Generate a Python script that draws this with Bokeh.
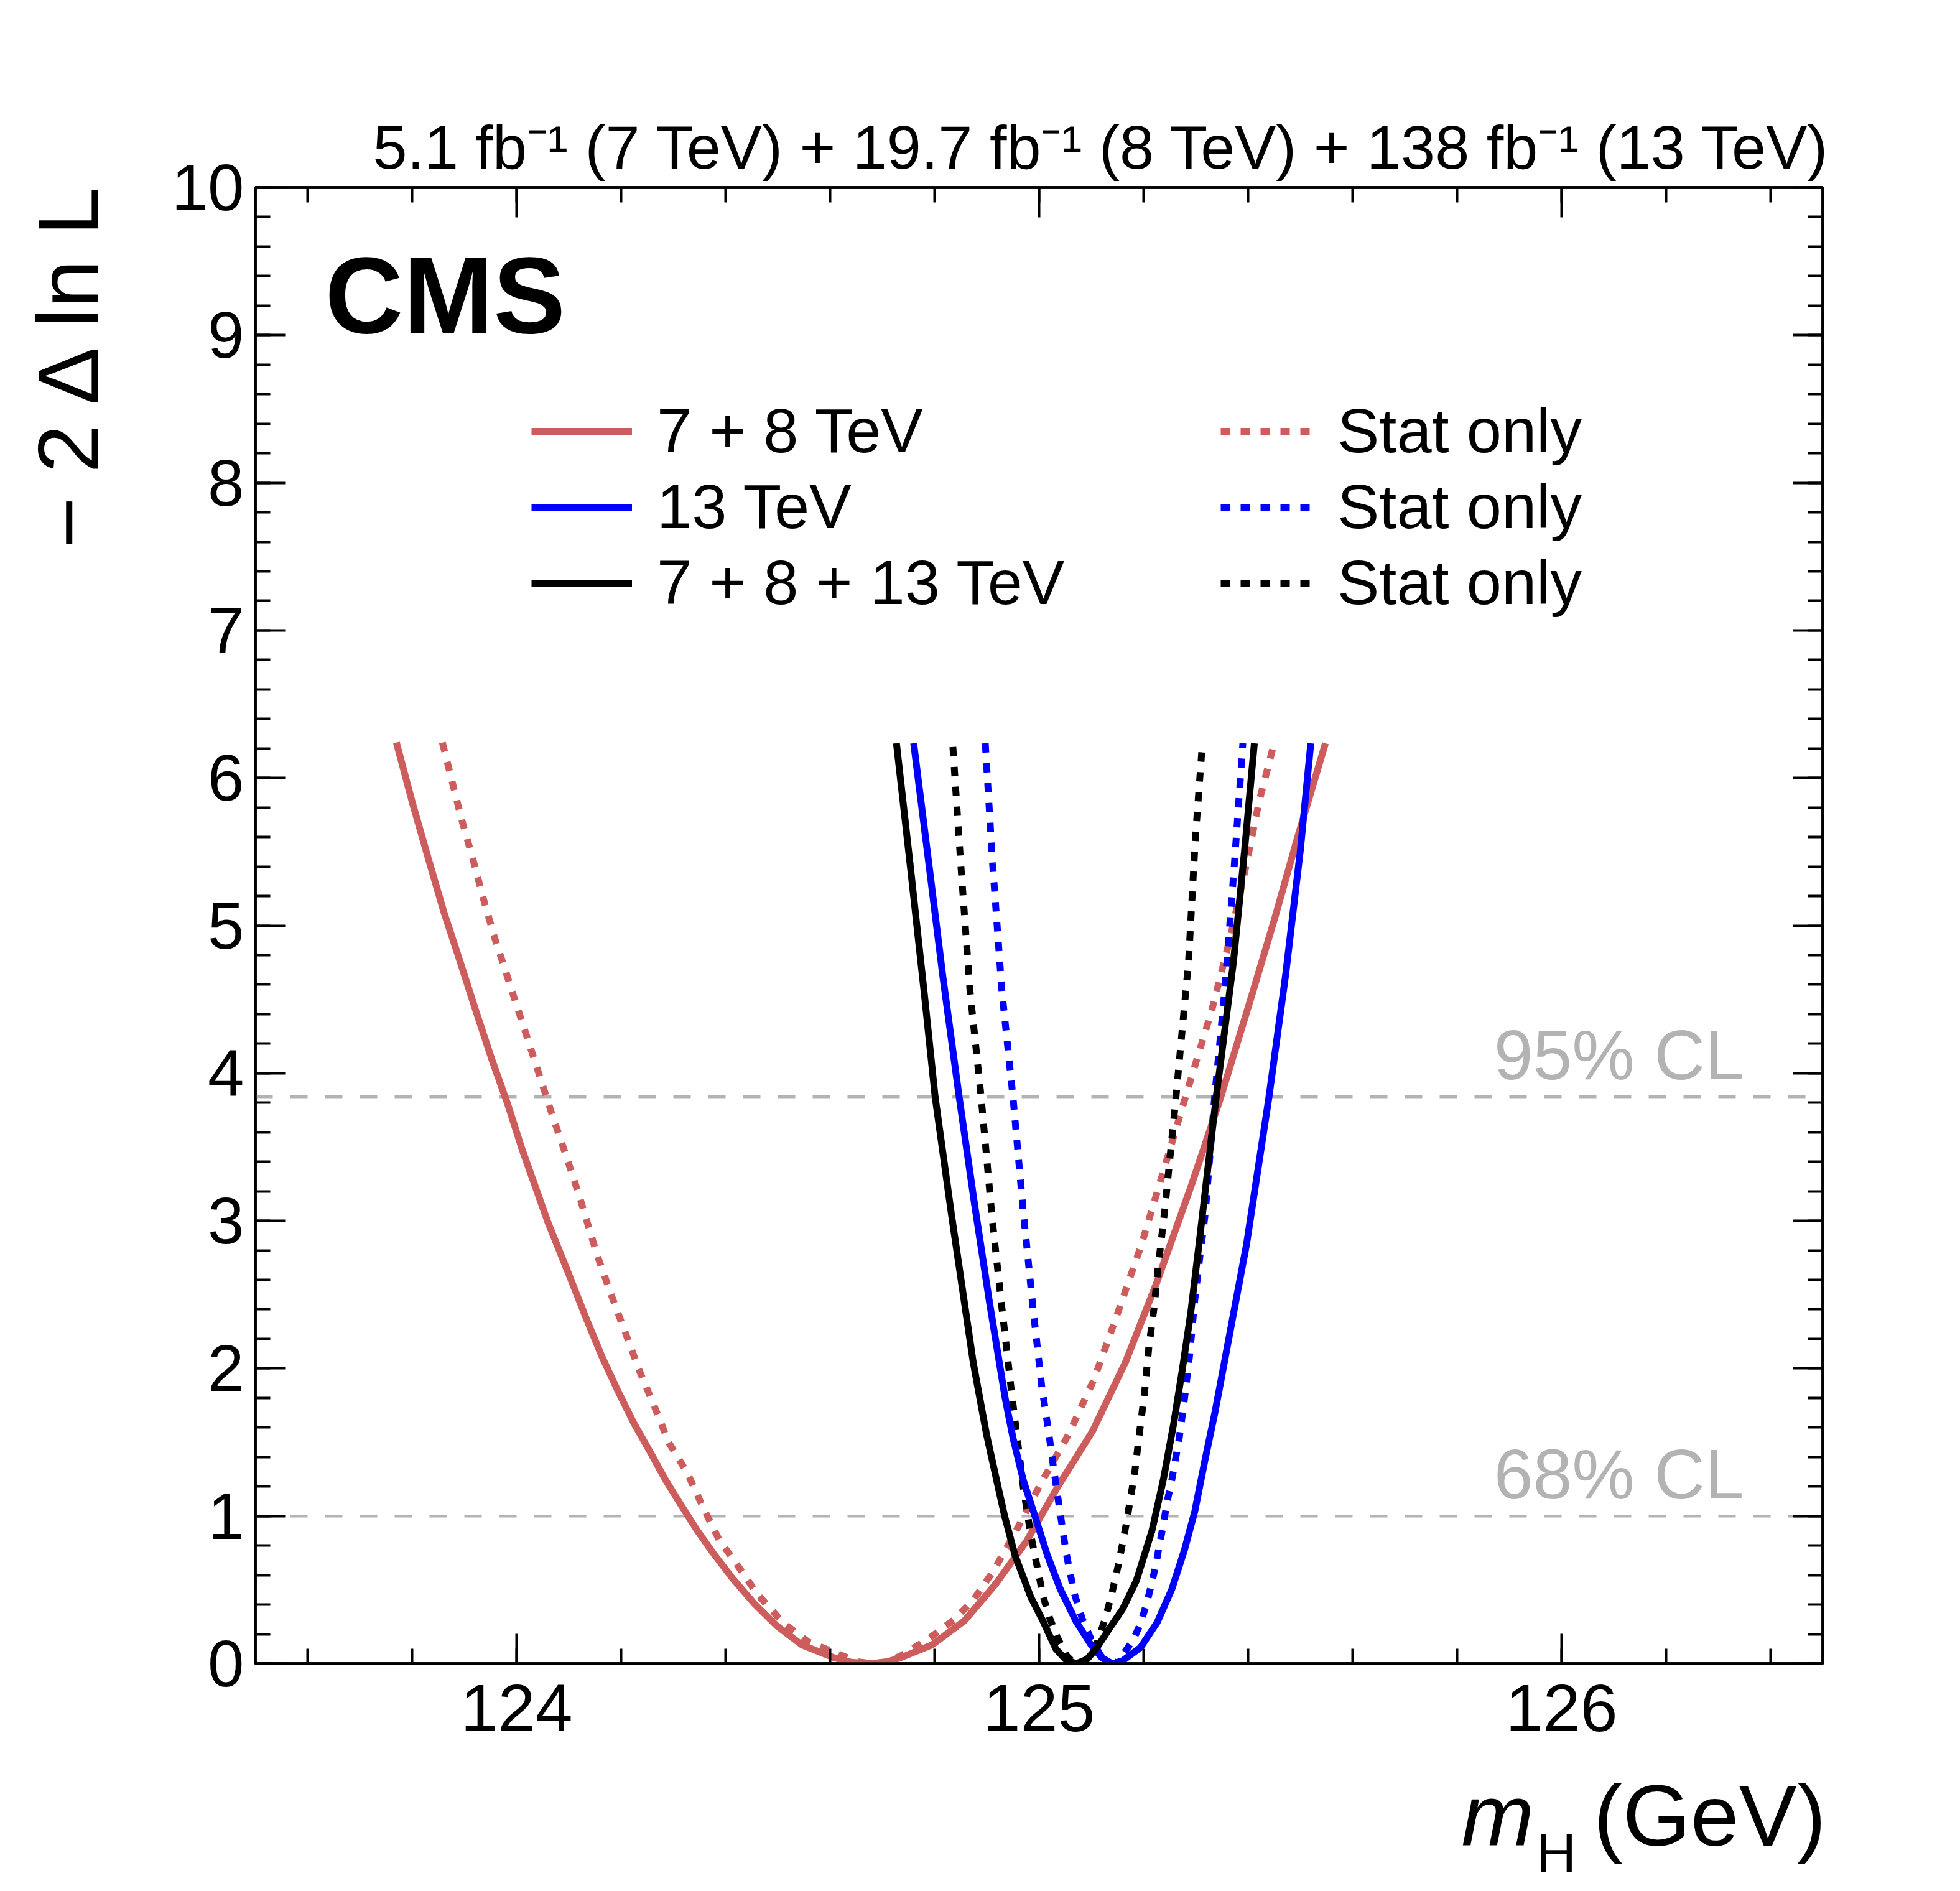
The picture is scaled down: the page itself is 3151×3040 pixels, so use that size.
import math
from bokeh.plotting import figure
from bokeh.layouts import column, row
from bokeh.models import (Range1d, LinearAxis, SingleIntervalTicker, Span, Label,
                          Legend, LegendItem, CustomJSTickFormatter)
from bokeh.embed import file_html
from bokeh.resources import INLINE

# ---------------- data ----------------
red_x = [123.770, 123.800, 123.831, 123.861, 123.891, 123.922, 123.952, 123.983, 124.010, 124.037,
         124.060, 124.097, 124.133, 124.163, 124.194, 124.224, 124.255, 124.285, 124.315, 124.346,
         124.376, 124.413, 124.455, 124.498, 124.546, 124.607, 124.640, 124.675, 124.705, 124.735,
         124.795, 124.857, 124.917, 124.976, 125.036, 125.103, 125.166, 125.226, 125.293, 125.348,
         125.409, 125.451, 125.494, 125.548]
red_y = [6.24, 5.84, 5.455, 5.09, 4.766, 4.423, 4.10, 3.79, 3.49, 3.22,
         2.99, 2.664, 2.341, 2.083, 1.847, 1.632, 1.438, 1.245, 1.073, 0.901,
         0.75, 0.579, 0.406, 0.256, 0.127, 0.041, 0.010, 0.0, 0.008, 0.04,
         0.127, 0.29, 0.54, 0.83, 1.20, 1.58, 2.048, 2.59, 3.256, 3.84,
         4.55, 5.05, 5.59, 6.235]

red_stat_x = [123.858, 123.894, 123.916, 123.937, 123.958, 123.980, 124.001, 124.025, 124.046, 124.067,
              124.092, 124.119, 124.154, 124.182, 124.209, 124.236, 124.264, 124.291, 124.327, 124.355,
              124.388, 124.419, 124.461, 124.510, 124.558, 124.625, 124.652, 124.680, 124.708, 124.735,
              124.789, 124.838, 124.874, 124.913, 124.956, 125.004, 125.056, 125.105, 125.147, 125.196,
              125.245, 125.287, 125.330, 125.366, 125.397, 125.421, 125.448]
red_stat_y = [6.24, 5.73, 5.455, 5.175, 4.917, 4.68, 4.45, 4.19, 3.96, 3.73,
              3.47, 3.18, 2.77, 2.49, 2.234, 1.976, 1.74, 1.50, 1.29, 1.073,
              0.836, 0.686, 0.47, 0.277, 0.148, 0.052, 0.013, 0.0, 0.013, 0.052,
              0.17, 0.30, 0.43, 0.63, 0.90, 1.225, 1.55, 1.925, 2.34, 2.84,
              3.42, 3.92, 4.42, 4.92, 5.42, 5.84, 6.21]

blue_x = [124.760, 124.789, 124.816, 124.847, 124.877, 124.905, 124.935, 124.950, 124.970, 124.992,
          125.016, 125.040, 125.071, 125.099, 125.120, 125.140, 125.160, 125.194, 125.226, 125.254,
          125.278, 125.298, 125.317, 125.337, 125.357, 125.377, 125.397, 125.440, 125.472, 125.500,
          125.520]
blue_y = [6.235, 5.42, 4.65, 3.84, 3.10, 2.45, 1.80, 1.53, 1.24, 1.0,
          0.733, 0.509, 0.284, 0.129, 0.04, 0.0, 0.02, 0.109, 0.279, 0.504,
          0.768, 1.032, 1.371, 1.71, 2.087, 2.464, 2.84, 3.84, 4.67, 5.51,
          6.235]

blue_stat_x = [124.897, 124.911, 124.929, 124.950, 124.969, 124.988, 125.005, 125.018, 125.028, 125.040,
               125.052, 125.067, 125.083, 125.099, 125.119, 125.130, 125.140, 125.149, 125.158, 125.180,
               125.194, 125.206, 125.216, 125.224, 125.231, 125.238, 125.245, 125.253, 125.268, 125.278,
               125.288, 125.298, 125.308, 125.318, 125.336, 125.355, 125.373, 125.390]
blue_stat_y = [6.235, 5.42, 4.55, 3.84, 3.09, 2.42, 1.88, 1.576, 1.32, 1.028,
               0.747, 0.48, 0.30, 0.17, 0.05, 0.01, 0.0, 0.008, 0.05, 0.16,
               0.27, 0.41, 0.55, 0.68, 0.818, 0.944, 1.098, 1.225, 1.522, 1.786,
               2.087, 2.464, 2.765, 3.05, 3.84, 4.55, 5.38, 6.235]

black_x = [124.727, 124.753, 124.780, 124.801, 124.832, 124.874, 124.899, 124.917, 124.934, 124.954,
           124.984, 125.008, 125.032, 125.050, 125.071, 125.092, 125.111, 125.135, 125.160, 125.186,
           125.216, 125.238, 125.258, 125.274, 125.290, 125.306, 125.339, 125.372, 125.393, 125.412]
black_y = [6.235, 5.42, 4.55, 3.84, 3.05, 2.04, 1.56, 1.27, 1.0, 0.733,
           0.452, 0.284, 0.10, 0.03, 0.0, 0.03, 0.11, 0.24, 0.37, 0.56,
           0.9, 1.25, 1.634, 1.99, 2.37, 2.84, 3.84, 4.755, 5.50, 6.235]

black_stat_x = [124.835, 124.850, 124.868, 124.889, 124.911, 124.929, 124.947, 124.957, 124.970, 124.984,
                124.995, 125.008, 125.020, 125.034, 125.052, 125.064, 125.075, 125.087, 125.098, 125.111,
                125.127, 125.139, 125.153, 125.167, 125.183, 125.192, 125.202, 125.210, 125.220, 125.228,
                125.241, 125.262, 125.286, 125.299, 125.312]
black_stat_y = [6.21, 5.42, 4.55, 3.84, 2.986, 2.406, 1.847, 1.56, 1.19, 0.874,
                0.68, 0.452, 0.312, 0.185, 0.056, 0.013, 0.0, 0.015, 0.06, 0.14,
                0.31, 0.47, 0.69, 0.95, 1.295, 1.56, 1.842, 2.143, 2.41, 2.69,
                3.09, 3.84, 4.755, 5.59, 6.21]

cl_levels = [1.0, 3.84]
cl_labels = ["68% CL", "95% CL"]
legend_labels_left = ["7 + 8 TeV", "13 TeV", "7 + 8 + 13 TeV"]
legend_labels_right = ["Stat only", "Stat only", "Stat only"]
header_text = "5.1 fb\u207b\u00b9 (7 TeV) + 19.7 fb\u207b\u00b9 (8 TeV) + 138 fb\u207b\u00b9 (13 TeV)"
y_title = "\u2212 2 \u0394 ln L"

X_RANGE = (123.5, 126.5)
Y_RANGE = (0.0, 10.0)

# ---------------- styling / layout ----------------
FONT = "Liberation Sans"
RED = "#cd5c5c"
BLUE = "#0000ff"
BLACK = "#000000"
GRAY = "#b3b3b3"
LW = 11
DOT = "15 17"
SHIFT = 0.36  # empirical baseline correction (fraction of font size)

W, H = 3135, 3038
YLAB_W = 248
ML, MR, MT, MB = 162, 205, 301, 150
FW, FH = 2520, 2373
PW = ML + FW + MR
PH = MT + FH + MB
XLAB_H = H - PH
XLAB_TOP = PH          # page y of the top of the x-label strip
FRAME_BOTTOM = MT + FH  # page y of the frame bottom


def text_panel(w, h):
    f = figure(width=w, height=h, x_range=Range1d(0, w), y_range=Range1d(0, h),
               output_backend="svg", toolbar_location=None,
               x_axis_location=None, y_axis_location=None, min_border=0)
    f.title.visible = False
    f.outline_line_color = None
    f.background_fill_color = "white"
    f.border_fill_color = "white"
    f.grid.visible = False
    return f


p = figure(width=PW, height=PH, x_range=Range1d(*X_RANGE), y_range=Range1d(*Y_RANGE),
           output_backend="svg", toolbar_location=None,
           x_axis_location=None, y_axis_location=None)
p.min_border_left = ML
p.min_border_right = MR
p.min_border_top = MT
p.min_border_bottom = MB
p.background_fill_color = "white"
p.border_fill_color = "white"
p.outline_line_color = "black"
p.outline_line_width = 4.5
p.grid.visible = False

# header line as the plot title (right aligned above the frame)
p.title.text = header_text
p.title.align = "right"
p.title.vertical_align = "bottom"
p.title.text_font = FONT
p.title.text_font_size = "99px"
p.title.text_font_style = "normal"
p.title.text_color = "black"
p.title.standoff = 20
p.title.offset = -13


def make_axis(show_labels, standoff, size="104px"):
    ax = LinearAxis(ticker=SingleIntervalTicker(interval=1, num_minor_ticks=5))
    ax.axis_line_color = "black"
    ax.axis_line_width = 4.5
    ax.major_tick_line_color = "black"
    ax.minor_tick_line_color = "black"
    ax.major_tick_line_width = 4
    ax.minor_tick_line_width = 4
    ax.major_tick_in = 48
    ax.major_tick_out = 0
    ax.minor_tick_in = 24
    ax.minor_tick_out = 0
    ax.major_label_text_font = FONT
    ax.major_label_text_color = "black"
    ax.major_label_standoff = standoff
    if show_labels:
        ax.major_label_text_font_size = size
    else:
        ax.major_label_text_font_size = "0px"
        ax.formatter = CustomJSTickFormatter(code="return ''")
    return ax


p.add_layout(make_axis(True, 34, "108px"), "below")
p.add_layout(make_axis(True, 18, "105px"), "left")
p.add_layout(make_axis(False, 0), "above")
p.add_layout(make_axis(False, 0), "right")

# confidence level lines and their labels
for lev in cl_levels:
    p.add_layout(Span(location=lev, dimension="width", line_color=GRAY, line_width=4.5,
                      line_dash="28 28", level="underlay"))
for lev, txt in zip(cl_levels, cl_labels):
    p.add_layout(Label(x=126.349, y=lev + 0.11 + SHIFT * 113 / (FH / 10.0), text=txt,
                       text_align="right", text_baseline="alphabetic", text_color=GRAY,
                       text_font=FONT, text_font_size="113px"))

# likelihood curves
r_red = p.line(red_x, red_y, line_color=RED, line_width=LW)
r_red_s = p.line(red_stat_x, red_stat_y, line_color=RED, line_width=LW, line_dash=DOT)
r_blue_s = p.line(blue_stat_x, blue_stat_y, line_color=BLUE, line_width=LW, line_dash=DOT)
r_black_s = p.line(black_stat_x, black_stat_y, line_color=BLACK, line_width=LW, line_dash=DOT)
r_blue = p.line(blue_x, blue_y, line_color=BLUE, line_width=LW)
r_black = p.line(black_x, black_y, line_color=BLACK, line_width=LW)


def make_legend(labels, renderers, loc, gw, standoff):
    leg = Legend(items=[LegendItem(label=l, renderers=[r]) for l, r in zip(labels, renderers)],
                 location=loc, orientation="vertical")
    leg.glyph_width = gw
    leg.glyph_height = 110
    leg.label_height = 110
    leg.spacing = 7
    leg.padding = 0
    leg.margin = 0
    leg.label_standoff = standoff
    leg.border_line_color = None
    leg.background_fill_alpha = 0
    leg.label_text_font = FONT
    leg.label_text_font_size = "101px"
    leg.label_text_baseline = "middle"
    leg.label_text_color = "black"
    return leg


p.add_layout(make_legend(legend_labels_left, [r_red, r_blue, r_black], (444, 1680), 162, 40))
p.add_layout(make_legend(legend_labels_right, [r_red_s, r_blue_s, r_black_s], (1552, 1680), 151, 37))

p.add_layout(Label(x=112, y=2137 + SHIFT * 174, x_units="screen", y_units="screen", text="CMS",
                   text_font=FONT, text_font_style="bold", text_font_size="174px",
                   text_baseline="alphabetic", text_align="left", text_color="black"))

# ---------------- outer texts in their own panels ----------------
# the y-label strip shares the frame rows of the main plot (frame from page y MT to FRAME_BOTTOM)
ylab = text_panel(YLAB_W, PH)
YT_SIZE = 140
ylab.add_layout(Label(x=159 - SHIFT * YT_SIZE, y=FRAME_BOTTOM - 285, x_units="screen", y_units="screen",
                      text=y_title, angle=math.pi / 2, text_font=FONT,
                      text_font_size=f"{YT_SIZE}px",
                      text_baseline="alphabetic", text_align="right", text_color="black"))

xlab = text_panel(W, XLAB_H)


def xl_y(baseline_page, size):
    return XLAB_H - (baseline_page - XLAB_TOP) + SHIFT * size


xlab.add_layout(Label(x=2349, y=xl_y(2967, 140), x_units="screen", y_units="screen", text="m",
                      text_font=FONT, text_font_style="italic", text_font_size="140px",
                      text_baseline="alphabetic", text_align="left", text_color="black"))
xlab.add_layout(Label(x=2470, y=xl_y(3010, 88), x_units="screen", y_units="screen", text="H",
                      text_font=FONT, text_font_size="88px",
                      text_baseline="alphabetic", text_align="left", text_color="black"))
xlab.add_layout(Label(x=2935, y=xl_y(2968, 140), x_units="screen", y_units="screen", text="(GeV)",
                      text_font=FONT, text_font_size="140px",
                      text_baseline="alphabetic", text_align="right", text_color="black"))

layout = column(row(ylab, p, spacing=0), xlab, spacing=0)

open("out.html", "w").write(file_html(layout, INLINE))
